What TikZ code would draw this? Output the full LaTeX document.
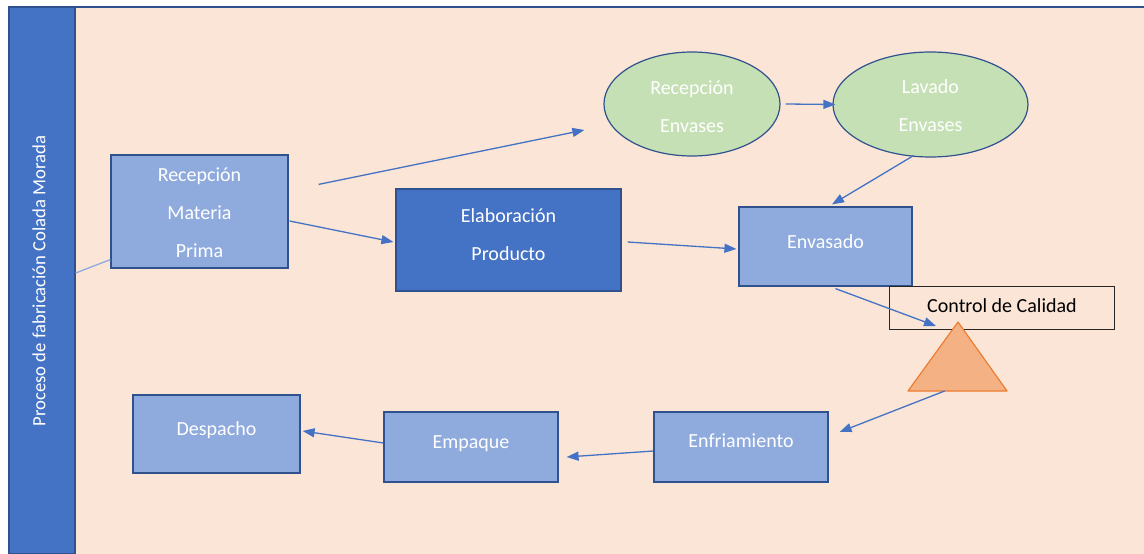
\documentclass[tikz,border=0pt]{standalone}
\usepackage{fontspec}
\setmainfont{Carlito}
\usetikzlibrary{arrows.meta,calc,shapes.geometric}

\definecolor{peach}{HTML}{FBE5D6}
\definecolor{lightblue}{HTML}{8FAADC}
\definecolor{midblue}{HTML}{4472C4}
\definecolor{edgeblue}{HTML}{2F528F}
\definecolor{palegreen}{HTML}{C5E0B4}
\definecolor{orangefill}{HTML}{F4B183}
\definecolor{orangeedge}{HTML}{ED7D31}

\tikzset{
  stepbox/.style={draw=edgeblue, line width=1.2pt, fill=lightblue, inner sep=0pt},
  darkbox/.style={draw=edgeblue, line width=1.2pt, fill=midblue, inner sep=0pt},
  oval/.style={draw=edgeblue, line width=1.2pt, fill=palegreen, ellipse, inner sep=0pt},
  txt/.style={text=white, font=\fontsize{20}{38}\selectfont, align=center, inner sep=0pt},
  flow/.style={draw=midblue, line width=1.3pt, -{Triangle[length=12pt,width=9pt]}},
}

\begin{document}
\begin{tikzpicture}[x=1pt,y=-1pt]
\useasboundingbox (0,0) rectangle (1144,554);
\fill[white] (0,0) rectangle (1144,554);

% peach panel and its top edge
\fill[peach] (75,7) rectangle (1144,554);
\draw[edgeblue, line width=1.2pt] (75,7) -- (1144,7);

% vertical title band
\node[draw=edgeblue, line width=1.2pt, fill=midblue, minimum width=66pt, minimum height=547pt, inner sep=0pt]
  (band) at (42,280.5) {};
\node[rotate=90, text=white, font=\fontsize{18.7}{20}\selectfont, inner sep=0pt]
  (bandtxt) at (39,281) {Proceso de fabricación Colada Morada};

% process boxes
\node[stepbox, minimum width=177pt, minimum height=113pt] (rmp) at (199.5,211.5) {};
\node[txt] at (199.5,213) {Recepción\\Materia\\Prima};

\node[darkbox, minimum width=225pt, minimum height=102pt] (elab) at (508.5,240) {};
\node[txt] at (508.5,235) {Elaboración\\Producto};

\node[stepbox, minimum width=173pt, minimum height=79pt] (env) at (825.5,246.5) {};
\node[txt] at (825.5,242) {Envasado};

\node[oval, minimum width=176pt, minimum height=104pt] (renv) at (692,104) {};
\node[txt] at (692,107) {Recepción\\Envases};

\node[oval, minimum width=195pt, minimum height=105pt] (lav) at (930.5,104.5) {};
\node[txt] at (930.5,106) {Lavado\\Envases};

\node[stepbox, minimum width=167pt, minimum height=78pt] (desp) at (216.5,434) {};
\node[txt] at (216.5,430) {Despacho};

\node[stepbox, minimum width=174pt, minimum height=70pt] (emp) at (471,447) {};
\node[txt] at (471,444) {Empaque};

\node[stepbox, minimum width=174pt, minimum height=70pt] (enf) at (741,447) {};
\node[txt] at (741,441) {Enfriamiento};

% quality control label and triangle
\node[draw=black!85, line width=1pt, minimum width=225pt, minimum height=43pt, inner sep=0pt] (cc) at (1001.5,307.5) {};
\node[font=\fontsize{20}{24}\selectfont, inner sep=0pt] at (1002,305.5) {Control de Calidad};
\coordinate (tA) at (958,322);
\coordinate (tL) at (908,391);
\coordinate (tR) at (1007,391);
\filldraw[fill=orangefill, draw=orangeedge, line width=1.2pt, line join=round] (tA) -- (tL) -- (tR) -- cycle;

% connectors
\draw[draw=lightblue, line width=1.3pt] ($(band.east)+(0,-7.5)$) -- ($(rmp.south west)+(0,-9)$);
\draw[flow] ($(rmp.north east)+(30,30)$) -- ($(renv.west)+(-19,26)$);
\draw[flow] ($(rmp.east)+(1,9.5)$) -- ($(elab.west)+(-2,2)$);
\draw[flow] ($(elab.east)+(6,2)$) -- ($(env.west)+(-2,2.5)$);
\draw[flow] ($(renv.east)+(5,0)$) -- ($(lav.west)+(3,0)$);
\draw[flow] ($(lav.south)+(-17,-2)$) -- ($(env.north)+(6.5,-2)$);
\draw[flow] ($(env.south)+(10,2)$) -- ($(tA)+(-22,4)$);
\draw[flow] ($(tL)!0.37!(tR)$) -- ($(enf.east)+(11,-15)$);
\draw[flow] ($(enf.west)+(0,4)$) -- ($(emp.east)+(8,10)$);
\draw[flow] ($(emp.west)+(0,-4)$) -- ($(desp.east)+(2,-3)$);
\end{tikzpicture}
\end{document}
